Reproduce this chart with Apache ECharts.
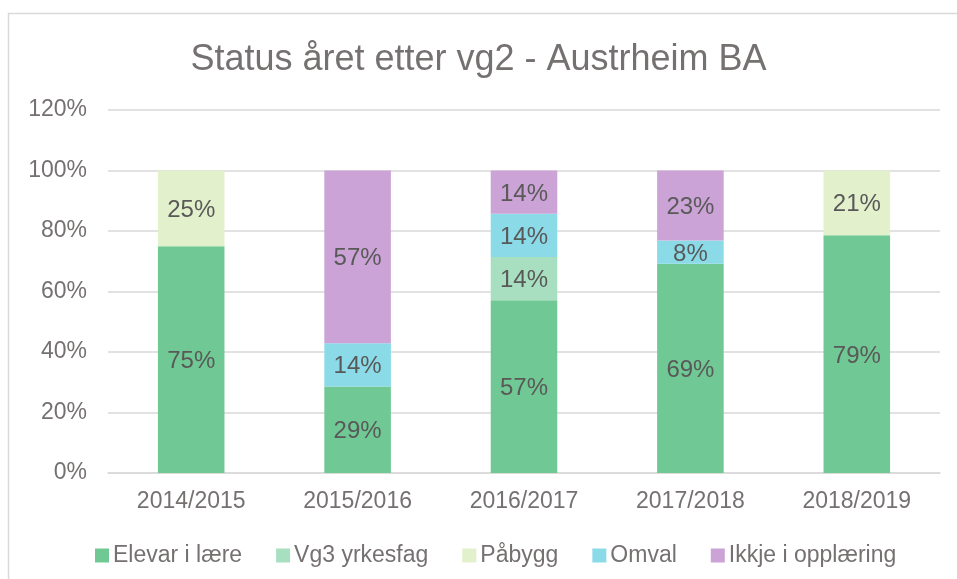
<!DOCTYPE html>
<html><head><meta charset="utf-8">
<script src="https://cdn.jsdelivr.net/npm/echarts@6/dist/echarts.min.js"></script>
<style>html,body{margin:0;padding:0;background:#fff}#c{width:957px;height:579px}</style>
</head><body><div id="c"></div>
<script>
const categories = ['2014/2015','2015/2016','2016/2017','2017/2018','2018/2019'];
const seriesNames = ['Elevar i lære','Vg3 yrkesfag','Påbygg','Omval','Ikkje i opplæring'];
const elevar = [75, 28.6, 57.1, 69.2, 78.6];
const vg3 = [null, null, 14.3, null, null];
const pabygg = [25, null, null, null, 21.4];
const omval = [null, 14.3, 14.3, 7.7, null];
const ikkje = [null, 57.1, 14.3, 23.1, null];
const yTicks = [0, 20, 40, 60, 80, 100, 120];
const colors = ['#70C994','#A8DFC0','#E2F0CB','#8ADAE8','#CBA3D6'];
const allData = [elevar, vg3, pabygg, omval, ikkje];

const font = 'Liberation Sans, Arial, sans-serif';
const txt = '#767171';
const chart = echarts.init(document.getElementById('c'), null, {renderer:'canvas'});
chart.setOption({
  animation:false,
  backgroundColor:'#fff',
  color: colors,
  title:{text:'Status året etter vg2 - Austrheim BA', left:'center', top:37,
    textStyle:{fontFamily:font, fontSize:36, fontWeight:'normal', color:txt}},
  graphic:[{type:'rect', shape:{x:8.5,y:13.5,width:960,height:580}, style:{fill:'none',stroke:'#D9D9D9',lineWidth:1.5}, silent:true}],
  legend:{top:539, left:90, itemWidth:14, itemHeight:14, itemGap:34, icon:'rect',
    textStyle:{fontFamily:font, fontSize:23, color:txt, padding:[0,0,0,-1]}},
  grid:{left:108, right:17, top:110, bottom:106},
  xAxis:{type:'category', data:categories,
    axisLine:{lineStyle:{color:'#D9D9D9', width:1.5}}, axisTick:{show:false},
    axisLabel:{fontFamily:font, fontSize:23, color:txt, margin:17}},
  yAxis:{type:'value', min:0, max:120, interval:20,
    axisLine:{show:false}, axisTick:{show:false},
    splitLine:{lineStyle:{color:'#D9D9D9', width:1.5}},
    axisLabel:{fontFamily:font, fontSize:23, color:txt, margin:21,
      formatter: v => yTicks.includes(v) ? v + '%' : ''}},
  series: seriesNames.map((n,i)=>({
    name:n, type:'bar', stack:'s', barWidth:'40%', data:allData[i],
    itemStyle:{color:colors[i]},
    label:{show:true, position:'inside', offset:[0,2], fontFamily:font, fontSize:24, color:'#595959',
      formatter: p => p.value==null ? '' : Math.round(p.value)+'%'}
  }))
});
</script></body></html>
